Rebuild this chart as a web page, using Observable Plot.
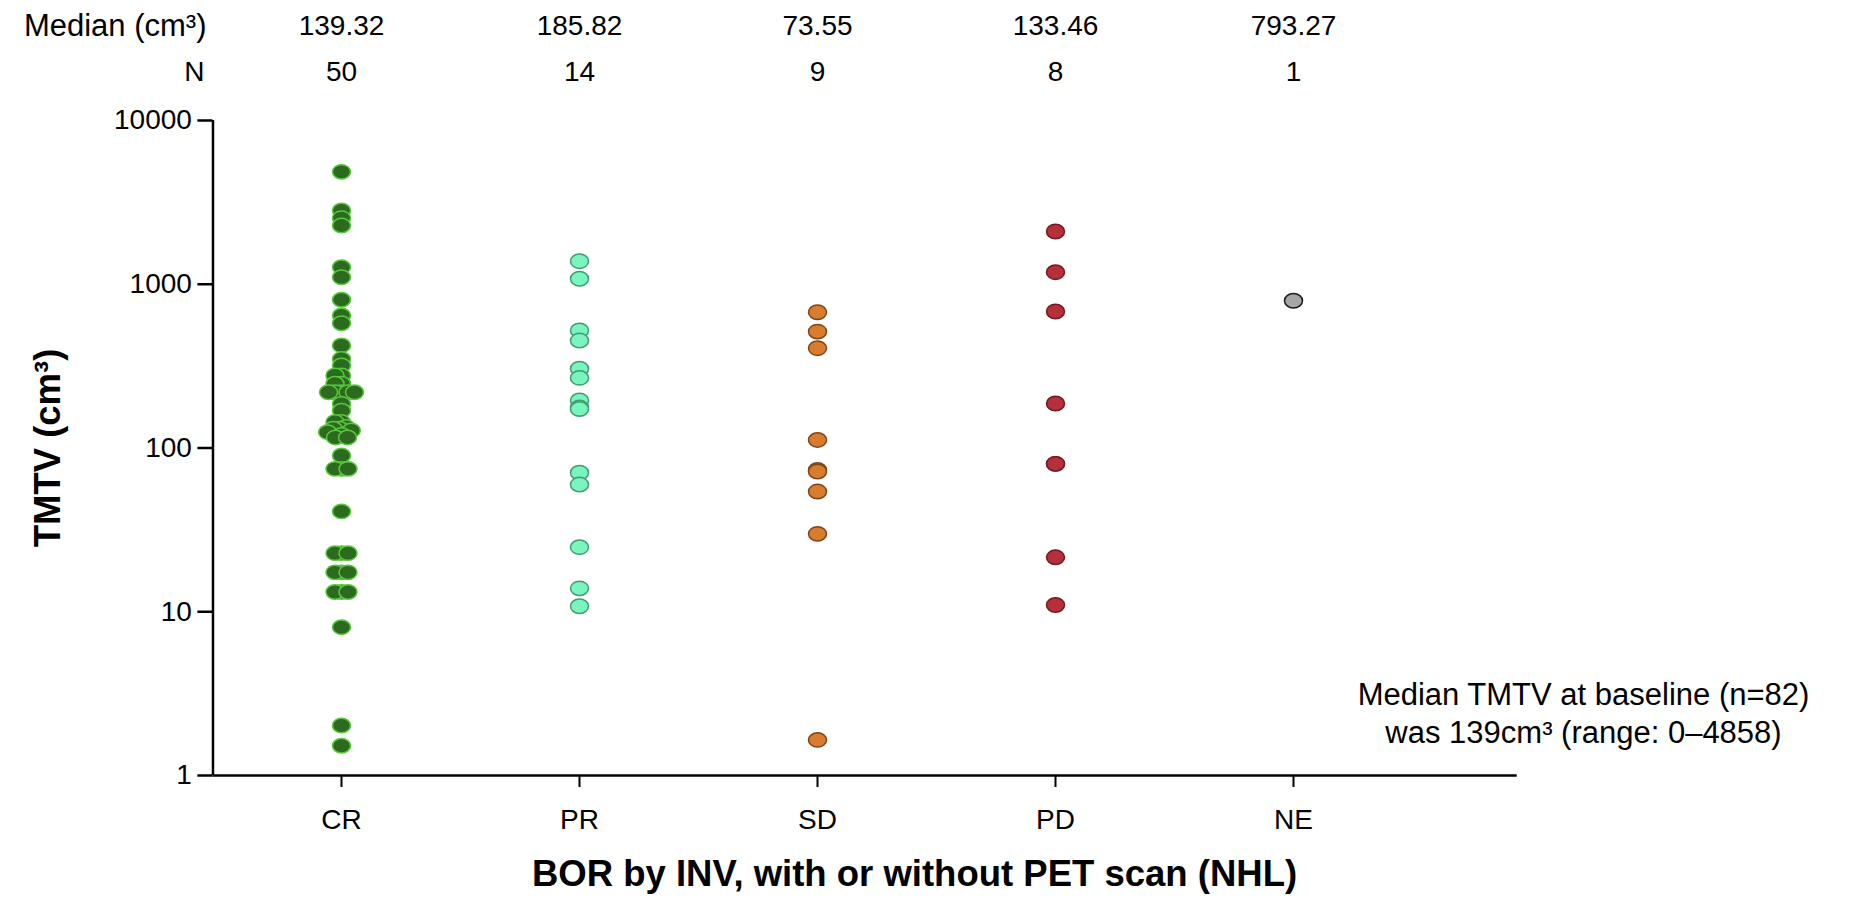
<!DOCTYPE html>
<html>
<head>
<meta charset="utf-8">
<script src="https://cdn.jsdelivr.net/npm/d3@7"></script>
<script src="https://cdn.jsdelivr.net/npm/@observablehq/plot@0.6"></script>
<style>
  html, body { margin: 0; padding: 0; background: #fff; }
  #chart { width: 1870px; height: 898px; }
</style>
</head>
<body>
<div id="chart"></div>
<script>
// ---- data ----
const categories = ["CR", "PR", "SD", "PD", "NE"];
const crValues = [4858, 2820, 2534, 2285, 1271, 1104, 804, 644, 578, 423, 350, 319, 277, 277, 247, 247,
  219, 219, 219, 219, 219, 186, 169, 144, 144, 134.6, 131, 131, 128, 125, 120, 116, 116,
  90, 74.6, 74.6, 74.6, 41, 22.8, 22.8, 22.8, 17.4, 17.4, 17.4, 13.2, 13.2, 13.2, 8.05, 2.02, 1.52];
const prValues = [1383, 1080, 522, 453, 305, 268, 195, 176.6, 173, 70.6, 59.8, 24.8, 13.9, 10.8];
const sdValues = [675, 514, 407, 112, 73.55, 71.8, 54.2, 29.9, 1.65];
const pdValues = [2100, 1185, 682, 186.92, 80, 80, 21.5, 11.0];
const neValues = [793.27];
const medians = ["139.32", "185.82", "73.55", "133.46", "793.27"];
const counts = ["50", "14", "9", "8", "1"];
const yTicks = [1, 10, 100, 1000, 10000];
const xAxisExtent = [-0.54, 4.94];   // x axis line extent, in category-step units from CR
const rowLabels = ["Median (cm³)", "N"];
const fillColors = ["#2c6a1f", "#7af5c0", "#d87c30", "#b5303a", "#a6a6a6"];
const strokeColors = ["#58c83c", "#3f9c6f", "#7f4416", "#6e1c22", "#1a1a1a"];
const note = ["Median TMTV at baseline (n=82)", "was 139cm³ (range: 0–4858)"];
const xTitle = "BOR by INV, with or without PET scan (NHL)";
const yTitle = "TMTV (cm³)";

// ---- build table ----
const seriesValues = [crValues, prValues, sdValues, pdValues, neValues];
const points = seriesValues.flatMap((vals, i) => vals.map(v => ({cat: categories[i], v})));
const crPoints = points.filter(d => d.cat === "CR");
const otherPoints = points.filter(d => d.cat !== "CR");
const fillOf = c => fillColors[categories.indexOf(c)];
const strokeOf = c => strokeColors[categories.indexOf(c)];

// ellipse symbol (wider than tall)
const ellipse = {
  draw(context, size) {
    const r = Math.sqrt(size / Math.PI);
    const rx = r * 2.25, ry = r * 1.8, k = 0.5523;
    context.moveTo(rx, 0);
    context.bezierCurveTo(rx, ry * k, rx * k, ry, 0, ry);
    context.bezierCurveTo(-rx * k, ry, -rx, ry * k, -rx, 0);
    context.bezierCurveTo(-rx, -ry * k, -rx * k, -ry, 0, -ry);
    context.bezierCurveTo(rx * k, -ry, rx, -ry * k, rx, 0);
    context.closePath();
  }
};

const font = "'Liberation Sans', Arial, Helvetica, sans-serif";
const first = () => categories[0];

const chart = Plot.plot({
  width: 1870,
  height: 898,
  marginLeft: 212,
  marginRight: 350,
  marginTop: 120,
  marginBottom: 123,
  style: {fontFamily: font, fontSize: "28px", color: "#000", background: "#fff"},
  fx: {domain: categories, paddingInner: 0, paddingOuter: 0.2387, align: 0.085, label: null},
  x: {domain: [-0.5, 0.5], axis: null},
  y: {type: "log", domain: [1, 10000], label: null},
  marks: [
    // axis lines
    Plot.ruleY([1], {fx: first, x1: xAxisExtent[0], x2: xAxisExtent[1], stroke: "#000", strokeWidth: 2.5}),
    Plot.ruleX([xAxisExtent[0]], {fx: first, y1: yTicks[0], y2: yTicks[yTicks.length - 1], stroke: "#000", strokeWidth: 2.5}),
    Plot.axisY({ticks: yTicks, tickFormat: d => String(d), tickSize: 15, tickPadding: 6, dx: -9.6,
      fontSize: 28, strokeWidth: 2.5, label: null}),
    Plot.axisFx({anchor: "bottom", tickSize: 12, tickPadding: 22, fontSize: 28, strokeWidth: 2, label: null}),
    // dots
    Plot.dot(crPoints, Plot.dodgeX({anchor: "middle", padding: -1.5}, {
      fx: "cat", y: "v", r: 4, symbol: ellipse,
      fill: d => fillOf(d.cat), stroke: d => strokeOf(d.cat), strokeWidth: 1.5
    })),
    Plot.dot(otherPoints, {
      fx: "cat", y: "v", r: 4, symbol: ellipse,
      fill: d => fillOf(d.cat), stroke: d => strokeOf(d.cat), strokeWidth: 1.5
    }),
    // header rows
    Plot.text(categories, {fx: d => d, text: (d, i) => medians[i], frameAnchor: "top", lineAnchor: "middle", dy: -94, fontSize: 28}),
    Plot.text(categories, {fx: d => d, text: (d, i) => counts[i], frameAnchor: "top", lineAnchor: "middle", dy: -48, fontSize: 28}),
    Plot.text([rowLabels[0]], {fx: first, text: d => d, frameAnchor: "top-left", lineAnchor: "middle", textAnchor: "end", dx: -16, dy: -94, fontSize: 31}),
    Plot.text([rowLabels[1]], {fx: first, text: d => d, frameAnchor: "top-left", lineAnchor: "middle", textAnchor: "end", dx: -18, dy: -48, fontSize: 28}),
    // annotation
    Plot.text([note.join("\n")], {fx: () => categories[4], text: d => d, frameAnchor: "bottom", lineAnchor: "middle", dx: 290, dy: -64, lineHeight: 1.22, fontSize: 31}),
    // axis titles
    Plot.text([xTitle], {fx: () => categories[2], text: d => d, frameAnchor: "bottom", lineAnchor: "middle", dx: 97, dy: 99, fontSize: 36.5, fontWeight: "bold"}),
    Plot.text([yTitle], {fx: first, text: d => d, frameAnchor: "left", lineAnchor: "middle", textAnchor: "middle", dx: -174, rotate: -90, fontSize: 36.5, fontWeight: "bold"})
  ]
});
document.getElementById("chart").appendChild(chart);
</script>
</body>
</html>
